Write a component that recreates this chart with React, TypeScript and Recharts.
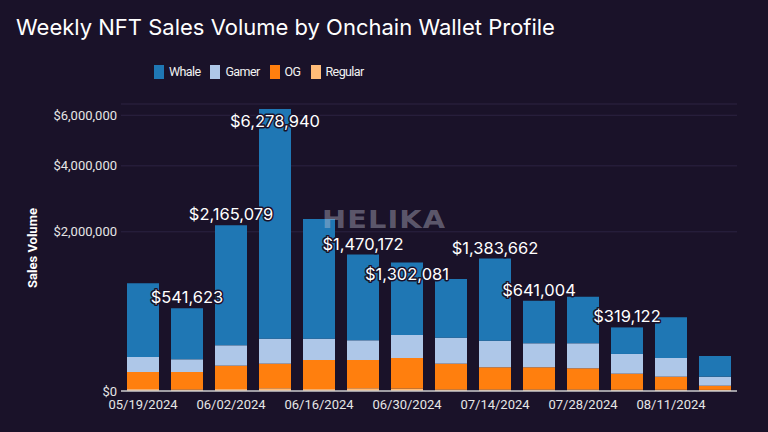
import { BarChart, Bar, XAxis, YAxis, CartesianGrid, LabelList } from 'recharts';

const weeks = ['05/19/2024', '05/26/2024', '06/02/2024', '06/09/2024', '06/16/2024', '06/23/2024', '06/30/2024', '07/07/2024', '07/14/2024', '07/21/2024', '07/28/2024', '08/04/2024', '08/11/2024', '08/18/2024'];
const whale = [825100, 462223, 2000079, 6062840, 2121400, 1267072, 1054281, 766700, 1183762, 461204, 522800, 210922, 343160, 80630];
const gamer = [62800, 50900, 114400, 157200, 140200, 127200, 161800, 165600, 155500, 135400, 139100, 84550, 69900, 13940];
const og = [28200, 28300, 50300, 58300, 75600, 75300, 85500, 58700, 44200, 44200, 40500, 23500, 16000, 2100];
const regular = [300, 200, 300, 600, 300, 600, 500, 200, 200, 200, 200, 150, 150, 100];
// weeks whose total is printed on the bar
const labeledWeeks = [1, 2, 3, 5, 6, 8, 9, 11];
const yTicks = [0, 2000000, 4000000, 6000000];

const BG = '#1a1229';
const FONT = 'Roboto, "Noto Sans", sans-serif';

const series = [
  { key: 'Whale', color: '#1f77b4' },
  { key: 'Gamer', color: '#aec7e8' },
  { key: 'OG', color: '#ff7f0e' },
  { key: 'Regular', color: '#ffbb78' },
];

const data = weeks.map((week, i) => ({
  week,
  Whale: whale[i],
  Gamer: gamer[i],
  OG: og[i],
  Regular: regular[i],
  total: whale[i] + gamer[i] + og[i] + regular[i],
}));

const money = (v: number) => '$' + v.toLocaleString('en-US');

// nudges for labels that would collide with a neighbour or the top edge
const labelShift: Record<number, number> = { 3: 23, 6: 22 };

function TotalLabel(props: any) {
  const { x, y, width, index } = props;
  if (!labeledWeeks.includes(index)) return null;
  const cy = y - 11 + (labelShift[index] || 0);
  return (
    <text
      x={x + width / 2}
      y={cy}
      textAnchor="middle"
      dominantBaseline="central"
      fontSize={16.5}
      fontFamily="Inter, sans-serif"
      fill="#ffffff"
      stroke={BG}
      strokeWidth={3}
      paintOrder="stroke"
      strokeLinejoin="round"
    >
      {money(data[index].total)}
    </text>
  );
}

export default function App() {
  return (
    <div style={{ position: 'absolute', left: 0, top: 0, width: 768, height: 432, background: BG, fontFamily: FONT, overflow: 'hidden' }}>
      <div style={{ position: 'absolute', left: 16, top: 14, color: '#ffffff', fontSize: 22, fontFamily: 'Inter, sans-serif', whiteSpace: 'nowrap' }}>
        Weekly NFT Sales Volume by Onchain Wallet Profile
      </div>

      <div style={{ position: 'absolute', left: 154, top: 64, display: 'flex', alignItems: 'center', color: '#f2f2f2', fontSize: 12.5, letterSpacing: -0.6 }}>
        {series.map((s) => (
          <div key={s.key} style={{ display: 'flex', alignItems: 'center', marginRight: 10 }}>
            <div style={{ width: 10, height: 14, background: s.color, marginRight: 5 }} />
            <span>{s.key}</span>
          </div>
        ))}
      </div>

      <div style={{ position: 'absolute', left: 32, top: 248, transform: 'translate(-50%, -50%) rotate(-90deg)', color: '#ffffff', fontSize: 13, fontWeight: 700, whiteSpace: 'nowrap' }}>
        Sales Volume
      </div>

      <BarChart width={768} height={432} data={data} margin={{ top: 104, right: 31, bottom: 11, left: 0 }}>
        <CartesianGrid vertical={false} stroke="#2c2342" />
        <XAxis
          dataKey="week"
          interval={1}
          tickSize={0}
          tickMargin={9}
          height={30}
          axisLine={{ stroke: '#c8c8c8', strokeWidth: 1.5 }}
          tick={{ fill: '#e6e6e6', fontSize: 13, fontFamily: FONT }}
        />
        <YAxis
          scale="sqrt"
          domain={[0, 6500000]}
          allowDataOverflow
          ticks={yTicks}
          width={121}
          tickSize={0}
          tickMargin={4}
          axisLine={false}
          tickFormatter={money}
          tick={{ fill: '#e6e6e6', fontSize: 13, fontFamily: FONT }}
        />
        <Bar dataKey="Regular" stackId="a" fill="#ffbb78" barSize={32} isAnimationActive={false} />
        <Bar dataKey="OG" stackId="a" fill="#ff7f0e" barSize={32} isAnimationActive={false} />
        <Bar dataKey="Gamer" stackId="a" fill="#aec7e8" barSize={32} isAnimationActive={false} />
        <Bar dataKey="Whale" stackId="a" fill="#1f77b4" barSize={32} isAnimationActive={false}>
          <LabelList dataKey="total" content={TotalLabel} />
        </Bar>
      </BarChart>

      <div style={{ position: 'absolute', left: 0, top: 205, width: 768, textAlign: 'center', transform: 'scaleX(1.15)', color: 'rgba(200,200,215,0.4)', fontSize: 25, fontWeight: 700, letterSpacing: 1, fontFamily: '"DejaVu Sans", sans-serif', pointerEvents: 'none' }}>
        HELIKA
      </div>
    </div>
  );
}
